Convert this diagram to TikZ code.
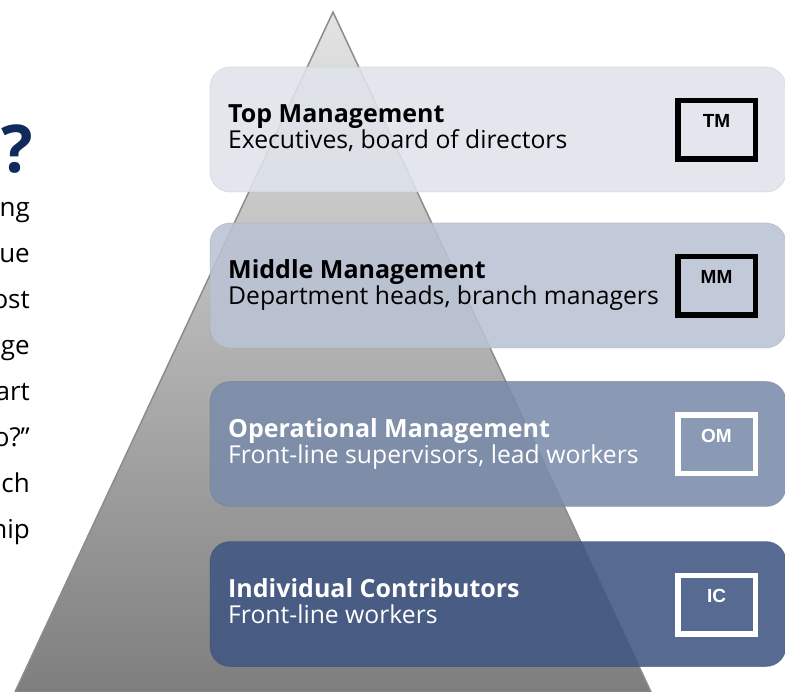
\documentclass[tikz,border=0pt]{standalone}
\usepackage{fontspec}
\setmainfont{Open Sans}
\newfontfamily\tagfont{Liberation Sans}
\usepackage{xcolor}
\definecolor{pyrtop}{RGB}{228,228,228}
\definecolor{pyrbot}{RGB}{126,126,126}
\definecolor{pyredge}{RGB}{140,140,140}
\definecolor{tiertm}{RGB}{223,227,235}
\definecolor{tiermm}{RGB}{186,194,211}
\definecolor{tierom}{RGB}{122,140,170}
\definecolor{tieric}{RGB}{64,86,131}
\definecolor{navy}{RGB}{14,43,92}

\begin{document}
\begin{tikzpicture}[x=1pt,y=-1pt,
    tier/.style={rounded corners=20pt,minimum width=576pt,minimum height=125pt,
      inner sep=0pt,fill opacity=0.88,draw opacity=0.4,line width=0.8pt},
    tiertitle/.style={anchor=base west,inner sep=0pt,font=\bfseries\fontsize{25}{25}\selectfont},
    tiersub/.style={anchor=base west,inner sep=0pt,font=\fontsize{24.7}{24.7}\selectfont},
    tag/.style={line width=5.5pt,minimum width=77.5pt,inner sep=0pt,
      text height=27.25pt,text depth=31.25pt,font=\tagfont\bfseries\fontsize{19}{19}\selectfont},
    side/.style={anchor=base east,inner sep=0pt,font=\fontsize{26}{26}\selectfont}]
    \useasboundingbox (0,0) rectangle (785,692);
    \coordinate (apex) at (333,12);
    \coordinate (baseleft) at (15,692);
    \coordinate (baseright) at (651,692);
    \shadedraw[top color=pyrtop,bottom color=pyrbot,draw=pyredge,line width=1.5pt]
      (apex) -- (baseleft) -- (baseright) -- cycle;
    \node[anchor=base east,inner sep=0pt,text=navy,font=\bfseries\fontsize{66}{66}\selectfont] (quest) at (33,173) {?};
    \foreach \w [count=\i] in {ng,ue,ost,ge,art,o?”,ch,hip}
      \node[side] (side\i) at (30,171+46*\i) {\w};
    \node[tier,fill=tiertm,draw=tiertm!85!black] (tm) at (498,129.5) {};
    \node[tier,fill=tiermm,draw=tiermm!85!black] (mm) at (498,285.5) {};
    \node[tier,fill=tierom,draw=tierom!85!black] (om) at (498,444) {};
    \node[tier,fill=tieric,draw=tieric!85!black] (ic) at (498,604) {};
    \node[tiertitle] (tmtitle) at (228,123) {Top Management};
    \node[tiersub] (tmsub) at (228,149) {Executives, board of directors};
    \node[tiertitle] (mmtitle) at (228,279) {Middle Management};
    \node[tiersub] (mmsub) at (228,305) {Department heads, branch managers};
    \node[tiertitle,text=white] (omtitle) at (228,438) {Operational Management};
    \node[tiersub,text=white] (omsub) at (228,464) {Front-line supervisors, lead workers};
    \node[tiertitle,text=white] (ictitle) at (228,597.5) {Individual Contributors};
    \node[tiersub,text=white] (icsub) at (228,623.5) {Front-line workers};
    \node[tag,draw=black] (tmtag) at (716.5,130) {TM};
    \node[tag,draw=black] (mmtag) at (716.5,286) {MM};
    \node[tag,draw=white,text=white] (omtag) at (716.5,444.5) {OM};
    \node[tag,draw=white,text=white] (ictag) at (716.5,604.5) {IC};
\end{tikzpicture}
\end{document}
